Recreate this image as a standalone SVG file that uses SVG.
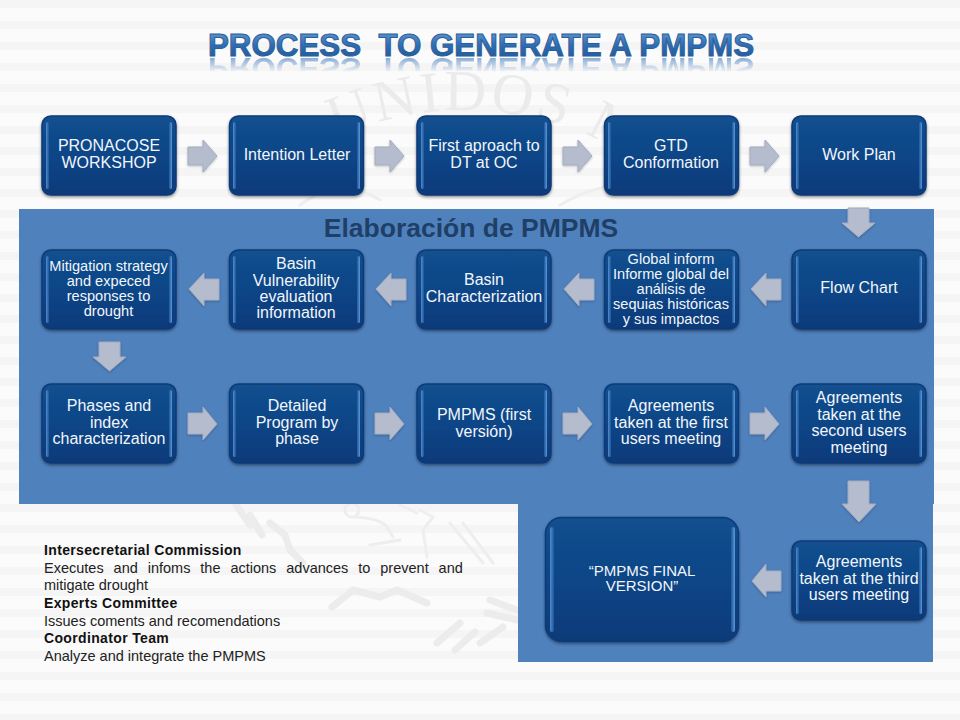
<svg xmlns="http://www.w3.org/2000/svg" width="960" height="720" viewBox="0 0 960 720">
<style>
.n{fill:url(#ng);stroke:#0b3a78;stroke-width:1.5;filter:url(#sh)}
.hl{fill:url(#hg);stroke:none;opacity:.85}
.hr{fill:url(#hg2);stroke:none;opacity:.85}
.t{font-family:"Liberation Sans",Arial,sans-serif;font-size:16px;fill:#f2f6fb;text-anchor:middle;transform:translateY(.8px)}
.s{font-size:14.600px}
.a{fill:#b4bccd;stroke:#a2abbf;stroke-width:1;filter:url(#sa)}
.w{fill:#ebebeb;letter-spacing:3px}
.ws{fill:none;stroke:#ececec;stroke-width:7;stroke-linecap:round;stroke-linejoin:round}
.ws2{fill:none;stroke:#eeeeee;stroke-width:3;stroke-linecap:round;stroke-linejoin:round}
.b{font-family:"Liberation Sans",Arial,sans-serif;font-size:14.500px;fill:#222;transform:translateY(.6px)}
.bb{font-size:14px;font-weight:bold;letter-spacing:.35px;fill:#111}
.tt{font-family:"Liberation Sans",Arial,sans-serif;font-weight:bold;font-size:31.300px;stroke-width:1}
</style>
<defs>
<linearGradient id="ng" x1="0" y1="0" x2="0" y2="1"><stop offset="0" stop-color="#12508f"/><stop offset=".6" stop-color="#0f4385"/><stop offset="1" stop-color="#0c3a78"/></linearGradient>
<linearGradient id="hg" x1="0" y1="0" x2="1" y2="0"><stop offset="0" stop-color="#5f97d8"/><stop offset="1" stop-color="#1c5a9e"/></linearGradient>
<linearGradient id="hg2" x1="0" y1="0" x2="1" y2="0"><stop offset="0" stop-color="#1c5a9e"/><stop offset="1" stop-color="#6ea6e2"/></linearGradient>
<linearGradient id="tg" x1="0" y1="0" x2="0" y2="1"><stop offset="0" stop-color="#6f9fd6"/><stop offset=".5" stop-color="#2f6cb4"/><stop offset="1" stop-color="#1d558f"/></linearGradient>
<linearGradient id="rf" x1="0" y1="0" x2="0" y2="1"><stop offset="0" stop-color="#fff" stop-opacity=".65"/><stop offset="1" stop-color="#fff" stop-opacity="0"/></linearGradient>
<mask id="rm" maskUnits="userSpaceOnUse" x="190" y="56" width="580" height="18"><rect x="190" y="57" width="580" height="15" fill="url(#rf)"/></mask>
<filter id="sh" x="-10%" y="-10%" width="120%" height="125%"><feDropShadow dx="0" dy="1.5" stdDeviation="1.5" flood-color="#000" flood-opacity=".45"/></filter>
<filter id="sa" x="-20%" y="-20%" width="140%" height="140%"><feDropShadow dx="0" dy="1" stdDeviation="1" flood-color="#000" flood-opacity=".25"/></filter>
<pattern id="st" width="960" height="21" patternUnits="userSpaceOnUse"><rect width="960" height="21" fill="#fbfbfb"/><rect y="0" width="960" height="8" fill="#f5f5f5"/></pattern>
<path id="arc" d="M 320 146 A 310 310 0 0 1 680 197"/>
</defs>
<rect width="960" height="720" fill="url(#st)"/>
<g id="watermark">
<text class="w" font-family="Liberation Serif,serif" font-size="58"><textPath href="#arc" startOffset="18">UNIDOS ME</textPath></text>
<path class="ws2" d="M300 205Q340 175 380 200M560 205Q620 170 680 195M450 180Q500 165 545 185"/>
<path class="ws" d="M236 505L250 525M270 523L285 535L290 550L303 563M332 607L353 590L380 597L397 590L427 603M437 643L460 623M455 650L475 632M480 643L503 627M490 600L517 610M487 613L517 620M250 515L262 535"/>
<path class="ws2" d="M347 515A7 7 0 1 0 346.900 514.900M353 517Q380 518 387 527L393 537M370 545L400 540M420 510L433 517L423 530L427 557M450 523L483 563M463 523L493 563M400 505L417 513"/>
</g>
<g id="panels" fill="#4f81bd"><rect x="19" y="209" width="915" height="295"/><rect x="518" y="504" width="415" height="158"/></g>
<g id="title">
<text class="tt" x="208" y="56" fill="url(#tg)" stroke="#2a6099" xml:space="preserve">PROCESS  TO GENERATE A PMPMS</text>
<g mask="url(#rm)"><text class="tt" transform="translate(0 114) scale(1 -1)" x="208" y="56" fill="#3f78bd" xml:space="preserve">PROCESS  TO GENERATE A PMPMS</text></g>
</g>
<text x="471" y="237" font-family="Liberation Sans,Arial,sans-serif" font-weight="bold" font-size="26.500" fill="#1f3f66" text-anchor="middle" id="panel-title">Elaboración de PMPMS</text>
<g id="connectors">
<path class="a" d="M188 147H203V140L217 156L203 172V165H188Z"/>
<path class="a" d="M375 147H390V140L404 156L390 172V165H375Z"/>
<path class="a" d="M563 147H578V140L592 156L578 172V165H563Z"/>
<path class="a" d="M750 147H765V140L779 156L765 172V165H750Z"/>
<path class="a" d="M848 208H869V223H875L858.500 237L842 223H848Z"/>
<path class="a" d="M781 279H766V273L751 289L766 306V300H781Z"/>
<path class="a" d="M594 279H579V273L564 289L579 306V300H594Z"/>
<path class="a" d="M406 279H391V273L376 289L391 306V300H406Z"/>
<path class="a" d="M219 279H204V273L189 289L204 306V300H219Z"/>
<path class="a" d="M99 342H120V357H126L109.500 371L93 357H99Z"/>
<path class="a" d="M188 413H203V407L217 424L203 440V434H188Z"/>
<path class="a" d="M375 413H390V407L404 424L390 440V434H375Z"/>
<path class="a" d="M563 413H578V407L592 424L578 440V434H563Z"/>
<path class="a" d="M750 413H765V407L779 424L765 440V434H750Z"/>
<path class="a" d="M848 481H869V504H876L859 522L842 504H848Z"/>
<path class="a" d="M781 571H766V564L752 581L766 597V591H781Z"/>
</g>
<g id="n1"><rect class="n" x="42" y="116" width="134" height="79" rx="9"/><rect class="hl" x="46" y="122" width="3" height="67" rx="1.500"/><rect class="hr" x="169" y="122" width="3" height="67" rx="1.500"/><text class="t" x="109" y="150">PRONACOSE<tspan x="109" dy="17">WORKSHOP</tspan></text></g>
<g id="n2"><rect class="n" x="229.500" y="116" width="134" height="79" rx="9"/><rect class="hl" x="233" y="122" width="3" height="67" rx="1.500"/><rect class="hr" x="357" y="122" width="3" height="67" rx="1.500"/><text class="t" x="297" y="159">Intention Letter</text></g>
<g id="n3"><rect class="n" x="417" y="116" width="134" height="79" rx="9"/><rect class="hl" x="421" y="122" width="3" height="67" rx="1.500"/><rect class="hr" x="544" y="122" width="3" height="67" rx="1.500"/><text class="t" x="484" y="150">First aproach to<tspan x="484" dy="17">DT at OC</tspan></text></g>
<g id="n4"><rect class="n" x="604.500" y="116" width="134" height="79" rx="9"/><rect class="hl" x="608" y="122" width="3" height="67" rx="1.500"/><rect class="hr" x="732" y="122" width="3" height="67" rx="1.500"/><text class="t" x="671" y="150">GTD<tspan x="671" dy="17">Conformation</tspan></text></g>
<g id="n5"><rect class="n" x="792" y="116" width="134" height="79" rx="9"/><rect class="hl" x="796" y="122" width="3" height="67" rx="1.500"/><rect class="hr" x="919" y="122" width="3" height="67" rx="1.500"/><text class="t" x="859" y="159">Work Plan</text></g>
<g id="n6"><rect class="n" x="792" y="250" width="134" height="79" rx="9"/><rect class="hl" x="796" y="256" width="3" height="67" rx="1.500"/><rect class="hr" x="919" y="256" width="3" height="67" rx="1.500"/><text class="t" x="859" y="292">Flow Chart</text></g>
<g id="n7"><rect class="n" x="604.500" y="250" width="134" height="79" rx="9"/><rect class="hl" x="608" y="256" width="3" height="67" rx="1.500"/><rect class="hr" x="732" y="256" width="3" height="67" rx="1.500"/><text class="t s" x="671" y="263">Global inform<tspan x="671" dy="15">Informe global del</tspan><tspan x="671" dy="15">análisis de</tspan><tspan x="671" dy="15">sequias históricas</tspan><tspan x="671" dy="15">y sus impactos</tspan></text></g>
<g id="n8"><rect class="n" x="417" y="250" width="134" height="79" rx="9"/><rect class="hl" x="421" y="256" width="3" height="67" rx="1.500"/><rect class="hr" x="544" y="256" width="3" height="67" rx="1.500"/><text class="t" x="484" y="284">Basin<tspan x="484" dy="17">Characterization</tspan></text></g>
<g id="n9"><rect class="n" x="229.500" y="250" width="134" height="79" rx="9"/><rect class="hl" x="233" y="256" width="3" height="67" rx="1.500"/><rect class="hr" x="357" y="256" width="3" height="67" rx="1.500"/><text class="t" x="296" y="268">Basin<tspan x="296" dy="17">Vulnerability</tspan><tspan x="296" dy="16">evaluation</tspan><tspan x="296" dy="16">information</tspan></text></g>
<g id="n10"><rect class="n" x="42" y="250" width="134" height="79" rx="9"/><rect class="hl" x="46" y="256" width="3" height="67" rx="1.500"/><rect class="hr" x="169" y="256" width="3" height="67" rx="1.500"/><text class="t s" x="108.500" y="270">Mitigation strategy<tspan x="108.500" dy="15">and expeced</tspan><tspan x="108.500" dy="15">responses to</tspan><tspan x="108.500" dy="15">drought</tspan></text></g>
<g id="n11"><rect class="n" x="42" y="384" width="134" height="79" rx="9"/><rect class="hl" x="46" y="390" width="3" height="67" rx="1.500"/><rect class="hr" x="169" y="390" width="3" height="67" rx="1.500"/><text class="t" x="109" y="410">Phases and<tspan x="109" dy="17">index</tspan><tspan x="109" dy="16">characterization</tspan></text></g>
<g id="n12"><rect class="n" x="229.500" y="384" width="134" height="79" rx="9"/><rect class="hl" x="233" y="390" width="3" height="67" rx="1.500"/><rect class="hr" x="357" y="390" width="3" height="67" rx="1.500"/><text class="t" x="297" y="410">Detailed<tspan x="297" dy="17">Program by</tspan><tspan x="297" dy="16">phase</tspan></text></g>
<g id="n13"><rect class="n" x="417" y="384" width="134" height="79" rx="9"/><rect class="hl" x="421" y="390" width="3" height="67" rx="1.500"/><rect class="hr" x="544" y="390" width="3" height="67" rx="1.500"/><text class="t" x="484" y="419">PMPMS (first<tspan x="484" dy="17">versión)</tspan></text></g>
<g id="n14"><rect class="n" x="604.500" y="384" width="134" height="79" rx="9"/><rect class="hl" x="608" y="390" width="3" height="67" rx="1.500"/><rect class="hr" x="732" y="390" width="3" height="67" rx="1.500"/><text class="t" x="671" y="410">Agreements<tspan x="671" dy="17">taken at the first</tspan><tspan x="671" dy="16">users meeting</tspan></text></g>
<g id="n15"><rect class="n" x="792" y="384" width="134" height="79" rx="9"/><rect class="hl" x="796" y="390" width="3" height="67" rx="1.500"/><rect class="hr" x="919" y="390" width="3" height="67" rx="1.500"/><text class="t" x="859" y="402">Agreements<tspan x="859" dy="17">taken at the</tspan><tspan x="859" dy="16">second users</tspan><tspan x="859" dy="17">meeting</tspan></text></g>
<g id="n16"><rect class="n" x="792" y="541" width="134" height="79" rx="9"/><rect class="hl" x="796" y="547" width="3" height="67" rx="1.500"/><rect class="hr" x="919" y="547" width="3" height="67" rx="1.500"/><text class="t" x="859" y="566">Agreements<tspan x="859" dy="17">taken at the third</tspan><tspan x="859" dy="16">users meeting</tspan></text></g>
<g id="n17"><rect class="n" x="545.500" y="517.500" width="193" height="124" rx="16"/><rect class="hl" x="550" y="527" width="4" height="105" rx="2"/><rect class="hr" x="731" y="527" width="4" height="105" rx="2"/><text class="t" x="642" y="575" style="font-size:15px">“PMPMS FINAL<tspan x="642" dy="15">VERSION”</tspan></text></g>
<g id="notes">
<text class="b bb" x="44" y="554">Intersecretarial Commission</text>
<text class="b" x="44" y="572" word-spacing="5.900">Executes and infoms the actions advances to prevent and</text>
<text class="b" x="44" y="589">mitigate drought</text>
<text class="b bb" x="44" y="607">Experts Committee</text>
<text class="b" x="44" y="625">Issues coments and recomendations</text>
<text class="b bb" x="44" y="642">Coordinator Team</text>
<text class="b" x="44" y="660">Analyze and integrate the PMPMS</text>
</g>
</svg>
